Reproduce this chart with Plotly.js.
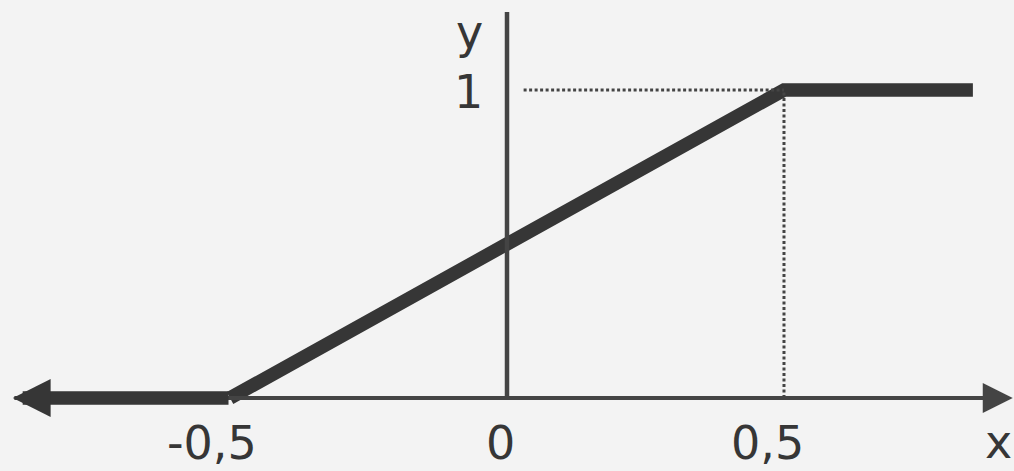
<!DOCTYPE html>
<html>
<head>
<meta charset="utf-8">
<script src="https://cdn.plot.ly/plotly-3.0.1.min.js"></script>
<style>
  html, body { margin: 0; padding: 0; background: #f3f3f3; }
  #chart { width: 1014px; height: 471px; }
</style>
</head>
<body>
<div id="chart"></div>
<script>
// Saturating linear transfer function: 0 below -0.5, rising to 1 at 0.5, flat after.
const fxX = [-0.892, -0.5, 0.5, 0.841];
const fxY = [0, 0, 1, 1];

// Tick labels on the x axis and the y axis
const xTickVals = [-0.5, 0, 0.5];
const xTickText = ['-0,5', '0', '0,5'];
const yTickVals = [1];
const yTickText = ['1'];

// Axis names
const xName = 'x';
const yName = 'y';

// Drawing extents of the axis arrows (data units)
const xAxisFrom = -0.892, xAxisTo = 0.913;
const yAxisTop = 1.253;

const ink = '#363636';
const thin = '#444444';
const fontFam = '"DejaVu Sans", Verdana, sans-serif';
const fontSize = 46;

const trace = {
  x: fxX.slice(1),
  y: fxY.slice(1),
  type: 'scatter',
  mode: 'lines',
  line: { color: ink, width: 13.5, simplify: false },
  hoverinfo: 'skip',
  showlegend: false
};

const annotations = [];

// thin x axis with arrow on the right
annotations.push({
  x: xAxisTo, y: 0, xref: 'x', yref: 'y',
  ax: xAxisFrom, ay: 0, axref: 'x', ayref: 'y',
  text: '', showarrow: true, arrowhead: 2, arrowsize: 1.5,
  arrowwidth: 4, arrowcolor: thin, standoff: 0
});

// left part of the function, ending in an arrow
annotations.push({
  x: fxX[0], y: fxY[0], xref: 'x', yref: 'y',
  ax: fxX[1], ay: fxY[1], axref: 'x', ayref: 'y',
  text: '', showarrow: true, arrowhead: 2, arrowsize: 0.56,
  arrowwidth: 13.5, arrowcolor: ink, standoff: 0
});

// x tick labels
const xShift = [-18, -7, -16];
xTickVals.forEach((v, i) => {
  annotations.push({
    x: v, y: 0, xref: 'x', yref: 'y',
    text: xTickText[i], showarrow: false,
    xanchor: 'center', yanchor: 'middle',
    xshift: xShift[i], yshift: -45,
    font: { family: fontFam, size: fontSize, color: ink }
  });
});

// y tick labels
yTickVals.forEach((v, i) => {
  annotations.push({
    x: 0, y: v, xref: 'x', yref: 'y',
    text: yTickText[i], showarrow: false,
    xanchor: 'right', yanchor: 'middle',
    xshift: -22, yshift: -2,
    font: { family: fontFam, size: fontSize, color: ink }
  });
});

// axis names
annotations.push({
  x: 0, y: yAxisTop, xref: 'x', yref: 'y',
  text: yName, showarrow: false,
  xanchor: 'right', yanchor: 'middle',
  xshift: -22, yshift: -20,
  font: { family: fontFam, size: fontSize, color: ink }
});
annotations.push({
  x: 1, y: 0, xref: 'paper', yref: 'paper',
  text: xName, showarrow: false,
  xanchor: 'right', yanchor: 'bottom',
  xshift: 0, yshift: 0,
  font: { family: fontFam, size: fontSize, color: ink }
});

const shapes = [
  // y axis
  { type: 'line', xref: 'x', yref: 'y', x0: 0, x1: 0, y0: 0, y1: yAxisTop,
    line: { color: thin, width: 4.5 } },
  // dotted guide to y = 1
  { type: 'line', xref: 'x', yref: 'y', x0: 0.03, x1: fxX[2], y0: fxY[2], y1: fxY[2],
    line: { color: thin, width: 3, dash: '3px,2.5px' } },
  // dotted guide down from x = 0.5
  { type: 'line', xref: 'x', yref: 'y', x0: fxX[2], x1: fxX[2], y0: 0, y1: fxY[2],
    line: { color: thin, width: 3, dash: '3px,2.5px' } }
];

const layout = {
  width: 1014,
  height: 471,
  margin: { l: 0, r: 0, t: 0, b: 0 },
  paper_bgcolor: '#f3f3f3',
  plot_bgcolor: '#f3f3f3',
  xaxis: { range: [-0.9152, 0.9152], visible: false, fixedrange: true },
  yaxis: { range: [-0.237, 1.2922], visible: false, fixedrange: true },
  shapes: shapes,
  annotations: annotations,
  showlegend: false
};

Plotly.newPlot('chart', [trace], layout, { displayModeBar: false, staticPlot: true });
</script>
</body>
</html>
